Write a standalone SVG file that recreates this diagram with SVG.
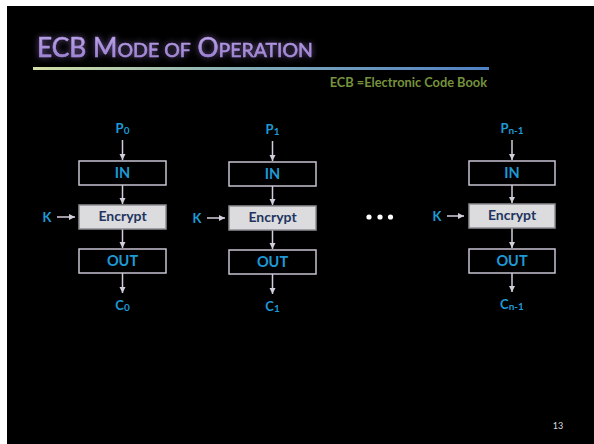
<svg xmlns="http://www.w3.org/2000/svg" width="594" height="444" viewBox="0 0 594 444">
<style>
.lbl{font-family:Lato,"Open Sans","Liberation Sans",sans-serif;font-weight:bold;fill:#1E9AD6;text-anchor:middle}
.io{font-size:14.5px}
.enc{font-family:Lato,"Open Sans","Liberation Sans",sans-serif;font-weight:bold;font-size:14px;fill:#1F3560;text-anchor:middle}
.pc{font-size:13px}
.box{fill:#000;stroke:#C9C3D2;stroke-width:1.5}
.ebox{fill:#DCDCDE;stroke:#8E8E94;stroke-width:1.5}
.arr{stroke:#D4CEDC;stroke-width:1.5;fill:none;marker-end:url(#ah)}
</style>
<defs>
<marker id="ah" markerUnits="userSpaceOnUse" markerWidth="7" markerHeight="7" refX="6" refY="3.5" orient="auto">
<path d="M0,0.5 L6,3.5 L0,6.5 z" fill="#D4CEDC"/>
</marker>
<linearGradient id="rule" x1="0" y1="0" x2="1" y2="0">
<stop offset="0" stop-color="#D3DFA6"/>
<stop offset="0.5" stop-color="#7FA9B8"/>
<stop offset="1" stop-color="#4F81C4"/>
</linearGradient>
<linearGradient id="tg" x1="0" y1="0" x2="0" y2="1">
<stop offset="0" stop-color="#C6B0EE"/>
<stop offset="1" stop-color="#9576CE"/>
</linearGradient>
<filter id="glow" x="-10%" y="-40%" width="120%" height="180%">
<feGaussianBlur in="SourceAlpha" stdDeviation="3" result="b"/>
<feFlood flood-color="#8A6DBA" flood-opacity="0.75"/>
<feComposite in2="b" operator="in" result="g"/>
<feMerge><feMergeNode in="g"/><feMergeNode in="SourceGraphic"/></feMerge>
</filter>
</defs>
<rect x="0" y="0" width="594" height="444" fill="#FFFFFF"/>
<rect x="7" y="6" width="587" height="438" fill="#000000"/>

<g id="title">
<text x="37" y="57" font-family="Lato,'Open Sans','Liberation Sans',sans-serif" fill="url(#tg)" stroke="#A88FDA" stroke-width="0.6" filter="url(#glow)" font-size="27" textLength="276" lengthAdjust="spacingAndGlyphs">ECB M<tspan font-size="20">ODE OF</tspan> O<tspan font-size="20">PERATION</tspan></text>
<rect x="33" y="67" width="456" height="3" fill="url(#rule)"/>
<text x="487" y="87" font-family="Lato,'Open Sans','Liberation Sans',sans-serif" font-weight="bold" font-size="12.8" fill="#76923C" text-anchor="end">ECB =Electronic Code Book</text>
</g>

<g id="connectors">
<line class="arr" x1="122.5" y1="140" x2="122.5" y2="160"/>
<line class="arr" x1="122.5" y1="185" x2="122.5" y2="204"/>
<line class="arr" x1="122.5" y1="229" x2="122.5" y2="248"/>
<line class="arr" x1="122.5" y1="273" x2="122.5" y2="293"/>
<line class="arr" x1="57" y1="217" x2="75" y2="217"/>

<line class="arr" x1="272.5" y1="141" x2="272.5" y2="161"/>
<line class="arr" x1="272.5" y1="186" x2="272.5" y2="205"/>
<line class="arr" x1="272.5" y1="230" x2="272.5" y2="249"/>
<line class="arr" x1="272.5" y1="274" x2="272.5" y2="294"/>
<line class="arr" x1="207" y1="218" x2="225" y2="218"/>

<line class="arr" x1="512" y1="140" x2="512" y2="160"/>
<line class="arr" x1="512" y1="185" x2="512" y2="203"/>
<line class="arr" x1="512" y1="228" x2="512" y2="248"/>
<line class="arr" x1="512" y1="273" x2="512" y2="292"/>
<line class="arr" x1="447" y1="216" x2="464" y2="216"/>
</g>

<g id="col0">
<g id="p0"><text class="lbl pc" x="122.5" y="133">P<tspan font-size="10" dy="0.5">0</tspan></text></g>
<g id="in0"><rect class="box" x="79" y="161" width="87" height="24"/><text class="lbl io" x="122.5" y="178">IN</text></g>
<g id="enc0"><rect class="ebox" x="79" y="205" width="87" height="24"/><text class="enc" x="122.5" y="221">Encrypt</text></g>
<g id="out0"><rect class="box" x="79" y="249" width="87" height="24"/><text class="lbl io" x="122.5" y="266">OUT</text></g>
<g id="c0"><text class="lbl pc" x="122.5" y="310">C<tspan font-size="10" dy="0.5">0</tspan></text></g>
<g id="k0"><text class="lbl pc" x="47" y="222">K</text></g>
</g>

<g id="col1">
<g id="p1"><text class="lbl pc" x="272.5" y="134">P<tspan font-size="10" dy="0.5">1</tspan></text></g>
<g id="in1"><rect class="box" x="229" y="162" width="87" height="24"/><text class="lbl io" x="272.5" y="179">IN</text></g>
<g id="enc1"><rect class="ebox" x="229" y="206" width="87" height="24"/><text class="enc" x="272.5" y="222">Encrypt</text></g>
<g id="out1"><rect class="box" x="229" y="250" width="87" height="24"/><text class="lbl io" x="272.5" y="267">OUT</text></g>
<g id="c1"><text class="lbl pc" x="272.5" y="311">C<tspan font-size="10" dy="0.5">1</tspan></text></g>
<g id="k1"><text class="lbl pc" x="197" y="223">K</text></g>
</g>

<g id="dots">
<circle cx="369" cy="217" r="2.6" fill="#FFFFFF"/>
<circle cx="380" cy="217" r="2.6" fill="#FFFFFF"/>
<circle cx="390.5" cy="217" r="2.6" fill="#FFFFFF"/>
</g>

<g id="col2">
<g id="pn"><text class="lbl pc" x="512" y="133">P<tspan font-size="10" dy="0.5">n-1</tspan></text></g>
<g id="inn"><rect class="box" x="469" y="161" width="86" height="24"/><text class="lbl io" x="512" y="178">IN</text></g>
<g id="encn"><rect class="ebox" x="469" y="204" width="86" height="24"/><text class="enc" x="512" y="220">Encrypt</text></g>
<g id="outn"><rect class="box" x="469" y="249" width="86" height="24"/><text class="lbl io" x="512" y="266">OUT</text></g>
<g id="cn"><text class="lbl pc" x="512" y="309">C<tspan font-size="10" dy="0.5">n-1</tspan></text></g>
<g id="kn"><text class="lbl pc" x="437" y="221">K</text></g>
</g>

<g id="pagenum"><text x="558" y="429" font-family="Lato,'Liberation Sans',sans-serif" font-size="9" fill="#DDDDDD" text-anchor="middle">13</text></g>
</svg>
